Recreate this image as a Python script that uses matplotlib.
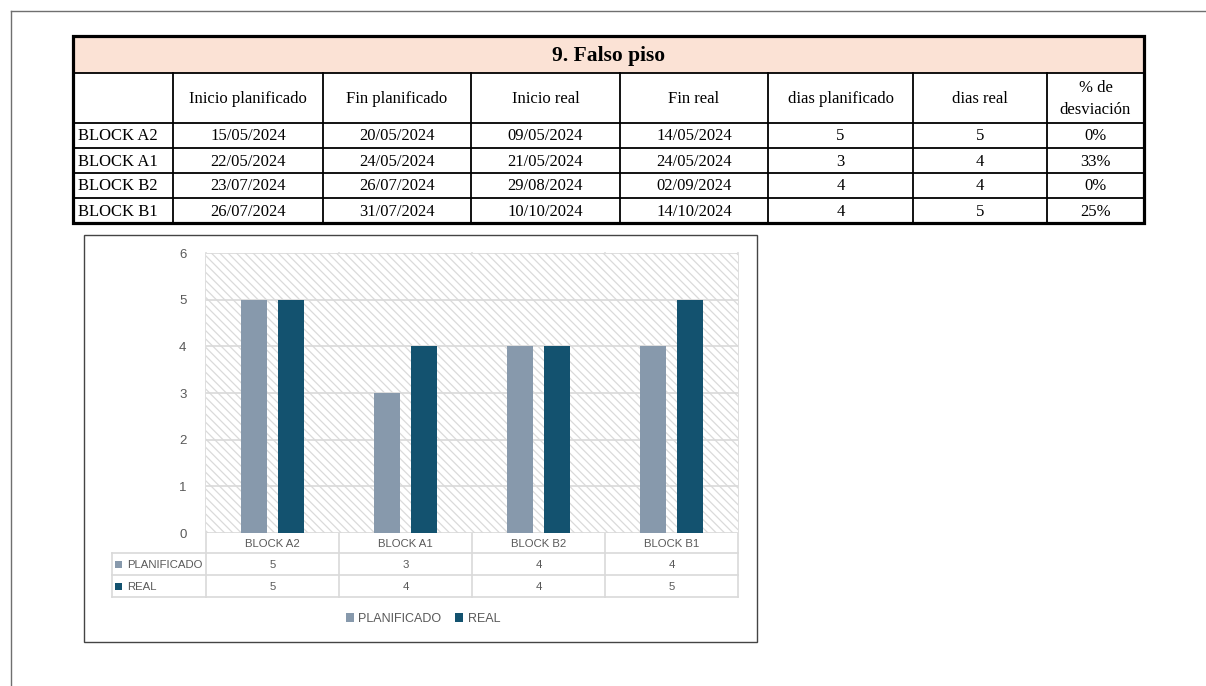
import matplotlib
matplotlib.use("Agg")
import matplotlib.pyplot as plt
from matplotlib.patches import Rectangle, Patch
from matplotlib.transforms import blended_transform_factory
import numpy as np

# ---------------- data ----------------
title = "9. Falso piso"
headers = ["", "Inicio planificado", "Fin planificado", "Inicio real", "Fin real",
           "dias planificado", "dias real", "% de\ndesviación"]
categories = ["BLOCK A2", "BLOCK A1", "BLOCK B2", "BLOCK B1"]
inicio_plan = ["15/05/2024", "22/05/2024", "23/07/2024", "26/07/2024"]
fin_plan = ["20/05/2024", "24/05/2024", "26/07/2024", "31/07/2024"]
inicio_real = ["09/05/2024", "21/05/2024", "29/08/2024", "10/10/2024"]
fin_real = ["14/05/2024", "24/05/2024", "02/09/2024", "14/10/2024"]
dias_plan = [5, 3, 4, 4]
dias_real = [5, 4, 4, 5]
desviacion = ["0%", "33%", "0%", "25%"]
series_names = ["PLANIFICADO", "REAL"]
yticks = [0, 1, 2, 3, 4, 5, 6]

# ---------------- style ----------------
W, H = 1206, 686
C_PLAN = "#8799AC"
C_REAL = "#13526F"
TXT = "#595959"
GRID = "#D9D9D9"
SERIF = "Liberation Serif"
SANS = "Liberation Sans"
plt.rcParams["hatch.linewidth"] = 0.9

fig = plt.figure(figsize=(W / 100, H / 100), dpi=100)
bg = fig.add_axes([0, 0, 1, 1])
bg.set_xlim(0, W)
bg.set_ylim(H, 0)
bg.axis("off")

# page border lines
bg.plot([11, W], [11, 11], color="#6f6f6f", lw=1.0)
bg.plot([11, 11], [11, H], color="#6f6f6f", lw=1.0)

# ---------------- table ----------------
col_x = [73, 173, 323, 471, 620, 768, 913, 1047, 1144]
row_y = [36, 73, 123, 148, 173, 198, 223]
bg.add_patch(Rectangle((col_x[0], row_y[0]), col_x[-1] - col_x[0], row_y[1] - row_y[0],
                       facecolor="#FBE2D5", edgecolor="none", zorder=1))
for y in row_y[1:-1]:
    bg.plot([col_x[0], col_x[-1]], [y, y], color="black", lw=1.3, zorder=3)
for x in col_x[1:-1]:
    bg.plot([x, x], [row_y[1], row_y[-1]], color="black", lw=1.3, zorder=3)
bg.add_patch(Rectangle((col_x[0], row_y[0]), col_x[-1] - col_x[0], row_y[-1] - row_y[0],
                       facecolor="none", edgecolor="black", lw=2.3, zorder=4))
bg.text((col_x[0] + col_x[-1]) / 2, (row_y[0] + row_y[1]) / 2 + 1, title,
        ha="center", va="center", fontsize=15.5, fontweight="bold", family=SERIF)
for i, h in enumerate(headers):
    if h:
        bg.text((col_x[i] + col_x[i + 1]) / 2, (row_y[1] + row_y[2]) / 2 + 1, h,
                ha="center", va="center", fontsize=12, family=SERIF, linespacing=1.55)
cols = [inicio_plan, fin_plan, inicio_real, fin_real,
        [str(v) for v in dias_plan], [str(v) for v in dias_real], desviacion]
for r, cat in enumerate(categories):
    yc = (row_y[2 + r] + row_y[3 + r]) / 2 + 1
    bg.text(col_x[0] + 5, yc, cat, ha="left", va="center", fontsize=12, family=SERIF)
    for c, col in enumerate(cols):
        bg.text((col_x[c + 1] + col_x[c + 2]) / 2, yc, col[r], ha="center",
                va="center", fontsize=12, family=SERIF)

# ---------------- chart ----------------
bg.add_patch(Rectangle((84, 235), 757 - 84, 642 - 235, facecolor="white",
                       edgecolor="#444444", lw=1.0, zorder=0))

px0, py0, px1, py1 = 206, 253, 738, 533
ax = fig.add_axes([px0 / W, 1 - py1 / H, (px1 - px0) / W, (py1 - py0) / H])
ax.set_xlim(-0.5, len(categories) - 0.5)
ax.set_ylim(yticks[0], yticks[-1])
ax.add_patch(Rectangle((0, 0), 1, 1, transform=ax.transAxes, facecolor="white",
                       edgecolor="#DADADA", hatch="\\\\\\\\", lw=0, zorder=0))
for s in ax.spines.values():
    s.set_visible(False)
ax.set_yticks(yticks)
ax.set_yticklabels([str(v) for v in yticks], color=TXT, fontsize=9.5, family=SANS)
ax.tick_params(axis="y", length=0, pad=14)
ax.set_xticks([])
for v in yticks:
    ax.axhline(v, color=GRID, lw=1.2, zorder=1)

x = np.arange(len(categories))
bw = 0.195
ax.bar(x - 0.14, dias_plan, bw, color=C_PLAN, zorder=3)
ax.bar(x + 0.14, dias_real, bw, color=C_REAL, zorder=3)

# data table under the chart
tr = blended_transform_factory(ax.transData, bg.transData)
tb_rows = [533, 553, 575, 597]
for b in np.arange(-0.5, len(categories), 1.0):
    bg.plot([b, b], [py0, tb_rows[-1]], color=GRID, lw=1.2, transform=tr, zorder=2)
for y in tb_rows[1:]:
    bg.plot([112, px1], [y, y], color=GRID, lw=1.2, zorder=2)
bg.plot([112, 112], [tb_rows[1], tb_rows[-1]], color=GRID, lw=1.2, zorder=2)
for i, cat in enumerate(categories):
    bg.text(i, (tb_rows[0] + tb_rows[1]) / 2 + 1, cat, transform=tr, ha="center",
            va="center", fontsize=8.2, color=TXT, family=SANS)
    bg.text(i, (tb_rows[1] + tb_rows[2]) / 2 + 1, str(dias_plan[i]), transform=tr,
            ha="center", va="center", fontsize=8.2, color=TXT, family=SANS)
    bg.text(i, (tb_rows[2] + tb_rows[3]) / 2 + 1, str(dias_real[i]), transform=tr,
            ha="center", va="center", fontsize=8.2, color=TXT, family=SANS)
for j, (name, col) in enumerate(zip(series_names, [C_PLAN, C_REAL])):
    yc = (tb_rows[1 + j] + tb_rows[2 + j]) / 2
    bg.add_patch(Rectangle((115, yc - 3.5), 7, 7, facecolor=col, edgecolor="none"))
    bg.text(127, yc + 1, name, ha="left", va="center", fontsize=8.2, color=TXT, family=SANS)

# legend
handles = [Patch(facecolor=C_PLAN), Patch(facecolor=C_REAL)]
fig.legend(handles, series_names, loc="center", bbox_to_anchor=(423 / W, 1 - 619 / H),
           ncol=2, frameon=False, handlelength=0.65, handleheight=0.65, handletextpad=0.35,
           columnspacing=1.1, prop={"family": SANS, "size": 9}, labelcolor=TXT)

fig.savefig("out.png", dpi=100)
